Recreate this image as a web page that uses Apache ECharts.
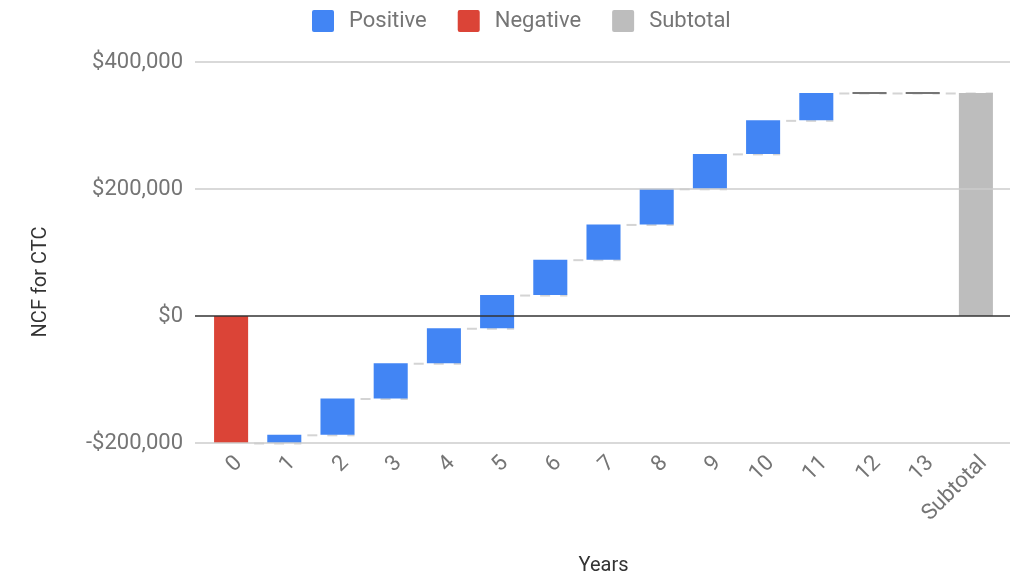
<!DOCTYPE html>
<html><head><meta charset="utf-8">
<script src="https://cdn.jsdelivr.net/npm/echarts@6/dist/echarts.min.js"></script>
<style>html,body{margin:0;padding:0;background:#fff}#c{width:1013px;height:576px}</style>
</head><body><div id="c"></div>
<script>
// ---- data ----
const categories = ['0','1','2','3','4','5','6','7','8','9','10','11','12','13','Subtotal'];
const changes = [-200000, 12900, 57200, 55500, 55100, 52300, 55700, 55500, 56100, 55000, 52800, 43100, 0, 0];
const yTickValues = [-200000, 0, 200000, 400000];
const legendNames = ['Positive', 'Negative', 'Subtotal'];

// ---- derived ----
const starts = [], ends = [];
let run = 0;
changes.forEach((v, i) => { starts.push(run); run += v; ends.push(run); });
const total = run;
const posData = [], negData = [], zeroData = [], connData = [];
changes.forEach((v, i) => {
  if (v > 0) posData.push([i, starts[i], ends[i]]);
  else if (v < 0) negData.push([i, starts[i], ends[i]]);
  else zeroData.push([i, ends[i]]);
  connData.push([i, ends[i]]);
});
const subData = [[categories.length - 1, 0, total]];

const FONT = 'Roboto';
const BAR_FRAC = 0.64;
function barItem(params, api) {
  const i = api.value(0), a = api.value(1), b = api.value(2);
  const p1 = api.coord([i, a]), p2 = api.coord([i, b]);
  const w = api.size([1, 0])[0] * BAR_FRAC;
  return { type: 'rect', shape: { x: p1[0] - w / 2, y: Math.min(p1[1], p2[1]), width: w, height: Math.abs(p1[1] - p2[1]) },
    style: { fill: api.visual('color') } };
}
function zeroItem(params, api) {
  const p = api.coord([api.value(0), api.value(1)]);
  const w = api.size([1, 0])[0] * BAR_FRAC;
  return { type: 'line', shape: { x1: p[0] - w / 2, y1: p[1], x2: p[0] + w / 2, y2: p[1] },
    style: { stroke: '#757575', lineWidth: 2 } };
}
function connItem(params, api) {
  const p = api.coord([api.value(0), api.value(1)]);
  const bw = api.size([1, 0])[0], w = bw * BAR_FRAC;
  return { type: 'line', shape: { x1: p[0] + w / 2, y1: p[1] + 0.5, x2: p[0] + bw + w / 2, y2: p[1] + 0.5 },
    style: { stroke: '#d4d4d4', lineWidth: 2, lineDash: [10, 10], lineDashOffset: 14 } };
}
const fmt = v => (v < 0 ? '-$' : '$') + Math.abs(v).toLocaleString('en-US');

const chart = echarts.init(document.getElementById('c'));
chart.setOption({
  animation: false,
  backgroundColor: '#fff',
  legend: {
    data: legendNames, top: 5, left: 307, itemWidth: 22, itemHeight: 22, itemGap: 31,
    icon: 'path://M2,0H20A2,2 0 0 1 22,2V20A2,2 0 0 1 20,22H2A2,2 0 0 1 0,20V2A2,2 0 0 1 2,0Z',
    textStyle: { fontFamily: FONT, fontSize: 22, color: '#757575', padding: [0, 0, 0, 10] }
  },
  grid: [
    { left: 204.5, right: 10.5, top: 62, bottom: 133, outerBoundsMode: 'none', containLabel: false },
    { left: 195, right: 3, top: 62, bottom: 133, outerBoundsMode: 'none', containLabel: false }
  ],
  xAxis: [
    { type: 'category', gridIndex: 0, data: categories,
      axisLine: { show: false }, axisTick: { show: false }, splitLine: { show: false },
      axisLabel: { rotate: 45, fontFamily: FONT, fontSize: 22, color: '#757575', margin: 9, interval: 0, verticalAlign: 'top' },
      name: 'Years', nameLocation: 'middle', nameGap: 113,
      nameTextStyle: { fontFamily: FONT, fontSize: 20, color: '#333' } },
    { type: 'value', gridIndex: 1, show: false, min: 0, max: 1 }
  ],
  yAxis: [
    { type: 'value', gridIndex: 0, min: yTickValues[0], max: yTickValues[yTickValues.length - 1], interval: 200000,
      axisLabel: { show: false }, axisLine: { show: false }, axisTick: { show: false }, splitLine: { show: false } },
    { type: 'value', gridIndex: 1, min: yTickValues[0], max: yTickValues[yTickValues.length - 1], interval: 200000,
      axisLine: { show: false }, axisTick: { show: false }, z: 5,
      axisLabel: { formatter: fmt, fontFamily: FONT, fontSize: 22, color: '#757575', margin: 12 },
      splitLine: { show: true, lineStyle: { color: ['#ccc', '#333', '#ccc', '#ccc'], width: 1.5 } } }
  ],
  graphic: [{ type: 'text', x: 41, y: 282, rotation: Math.PI / 2,
    style: { text: 'NCF for CTC', fontFamily: FONT, fontSize: 20, fill: '#333', align: 'center', verticalAlign: 'middle' } }],
  series: [
    { name: 'Connector', type: 'custom', xAxisIndex: 0, yAxisIndex: 0, renderItem: connItem, data: connData,
      encode: { x: 0, y: 1 }, z: 1, silent: true },
    { name: 'Positive', type: 'custom', xAxisIndex: 0, yAxisIndex: 0, renderItem: barItem, data: posData,
      encode: { x: 0, y: [1, 2] }, itemStyle: { color: '#4285f4' }, z: 2 },
    { name: 'Negative', type: 'custom', xAxisIndex: 0, yAxisIndex: 0, renderItem: barItem, data: negData,
      encode: { x: 0, y: [1, 2] }, itemStyle: { color: '#db4437' }, z: 2 },
    { name: 'Subtotal', type: 'custom', xAxisIndex: 0, yAxisIndex: 0, renderItem: barItem, data: subData,
      encode: { x: 0, y: [1, 2] }, itemStyle: { color: '#bdbdbd' }, z: 2 },
    { name: 'Zero', type: 'custom', xAxisIndex: 0, yAxisIndex: 0, renderItem: zeroItem, data: zeroData,
      encode: { x: 0, y: 1 }, z: 3, silent: true }
  ]
});
</script></body></html>
